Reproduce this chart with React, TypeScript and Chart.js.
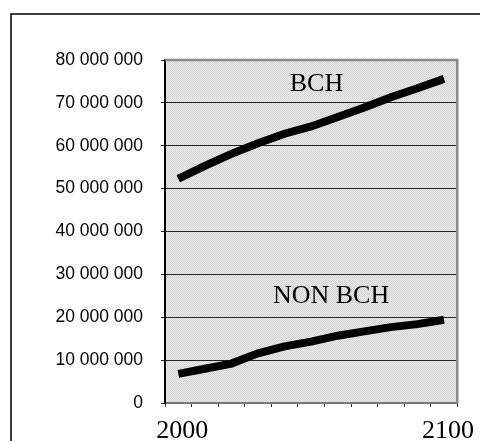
import React, { useEffect, useRef } from "react";
import { Chart, registerables } from "chart.js";

Chart.register(...registerables);

const categories = ["2000", "2010", "2020", "2030", "2040", "2050", "2060", "2070", "2080", "2090", "2100"];
const bchValues = [52300000, 55300000, 58100000, 60600000, 62800000, 64500000, 66700000, 68900000, 71300000, 73400000, 75600000];
const nonBchValues = [6800000, 8000000, 9200000, 11600000, 13200000, 14300000, 15700000, 16700000, 17700000, 18400000, 19400000];
const shownXLabels = ["2000", "2100"];
const seriesNames = ["BCH", "NON BCH"];
// label anchors: category index (fractional) and value
const labelIndex = [5.2, 5.75];
const labelValue = [74300000, 25000000];

function fmt(v: number): string {
  return String(Math.round(v)).replace(/\B(?=(\d{3})+(?!\d))/g, " ");
}

const decorPlugin = {
  id: "decor",
  beforeDraw(chart: any) {
    const { ctx, chartArea } = chart;
    ctx.save();
    // outer frame
    ctx.strokeStyle = "#000";
    ctx.lineWidth = 1.5;
    ctx.beginPath();
    ctx.moveTo(11, 441);
    ctx.lineTo(11, 14);
    ctx.lineTo(480, 14);
    ctx.stroke();
    // stippled plot background
    const pc = document.createElement("canvas");
    pc.width = 2;
    pc.height = 2;
    const p = pc.getContext("2d")!;
    p.fillStyle = "#ececec";
    p.fillRect(0, 0, 2, 2);
    p.fillStyle = "#d2d2d2";
    p.fillRect(0, 0, 1, 1);
    p.fillRect(1, 1, 1, 1);
    const pat = ctx.createPattern(pc, "repeat");
    ctx.fillStyle = pat;
    ctx.fillRect(chartArea.left, chartArea.top, chartArea.right - chartArea.left, chartArea.bottom - chartArea.top);
    ctx.restore();
  },
  afterDraw(chart: any) {
    const { ctx, chartArea, scales } = chart;
    ctx.save();
    // grey frame top/right
    ctx.strokeStyle = "#8a8a8a";
    ctx.lineWidth = 2.5;
    ctx.beginPath();
    ctx.moveTo(chartArea.left, chartArea.top);
    ctx.lineTo(chartArea.right, chartArea.top);
    ctx.lineTo(chartArea.right, chartArea.bottom);
    ctx.stroke();
    // series labels
    ctx.fillStyle = "#000";
    ctx.font = "26px 'Liberation Serif', 'Times New Roman', serif";
    ctx.textAlign = "center";
    ctx.textBaseline = "middle";
    for (let i = 0; i < seriesNames.length; i++) {
      const x = scales.x.getPixelForValue(labelIndex[i]);
      const y = scales.y.getPixelForValue(labelValue[i]);
      ctx.fillText(seriesNames[i], x, y);
    }
    ctx.restore();
  },
};

export default function App() {
  const ref = useRef<HTMLCanvasElement | null>(null);
  useEffect(() => {
    const canvas = ref.current!;
    const chart = new Chart(canvas, {
      type: "line",
      data: {
        labels: categories,
        datasets: [
          {
            label: seriesNames[0],
            data: bchValues,
            borderColor: "#000",
            borderWidth: 8,
            pointRadius: 0,
            tension: 0,
            fill: false,
          },
          {
            label: seriesNames[1],
            data: nonBchValues,
            borderColor: "#000",
            borderWidth: 8,
            pointRadius: 0,
            tension: 0,
            fill: false,
          },
        ],
      },
      options: {
        animation: false,
        responsive: false,
        layout: { padding: { top: 60, right: 22, left: 0, bottom: 0 } },
        plugins: {
          legend: { display: false },
          tooltip: { enabled: false },
          title: { display: false },
        },
        scales: {
          x: {
            type: "category",
            offset: true,
            grid: {
              display: true,
              offset: true,
              drawOnChartArea: false,
              drawTicks: true,
              tickLength: 4,
              color: "#333",
            },
            border: { display: true, color: "#777", width: 2 },
            ticks: {
              autoSkip: false,
              maxRotation: 0,
              padding: 9,
              labelOffset: 4,
              color: "#000",
              font: { family: "'Liberation Serif', 'Times New Roman', serif", size: 26 },
              callback: (_v: any, i: number) => (shownXLabels.includes(categories[i]) ? categories[i] : ""),
            },
            afterFit: (s: any) => {
              s.height = 38;
            },
          },
          y: {
            min: 0,
            max: 80000000,
            grid: {
              color: "#222",
              lineWidth: 1,
              tickLength: 4,
            },
            border: { display: true, color: "#000", width: 2 },
            ticks: {
              stepSize: 10000000,
              padding: 18,
              color: "#000",
              font: { family: "'Liberation Sans', Arial, sans-serif", size: 17.5 },
              callback: (v: any) => fmt(Number(v)),
            },
            afterFit: (s: any) => {
              s.width = 165;
            },
          },
        },
      },
      plugins: [decorPlugin],
    });
    return () => chart.destroy();
  }, []);
  return (
    <div style={{ position: "fixed", left: 0, top: 0, width: 480, height: 441, background: "#fff" }}>
      <canvas ref={ref} width={480} height={441} style={{ display: "block" }} />
    </div>
  );
}
